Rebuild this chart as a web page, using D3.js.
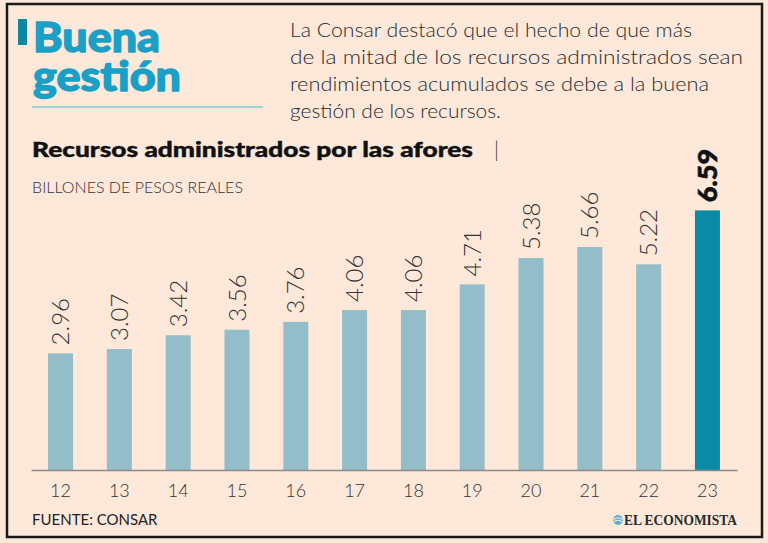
<!DOCTYPE html>
<html><head><meta charset="utf-8">
<script src="https://cdn.jsdelivr.net/npm/d3@7"></script>
<style>
html,body{margin:0;padding:0;background:#fde8da;}
svg{display:block;}
</style></head>
<body>
<svg id="chart" width="768" height="543"></svg>
<script>
const years = ["12","13","14","15","16","17","18","19","20","21","22","23"];
const values = [2.96, 3.07, 3.42, 3.56, 3.76, 4.06, 4.06, 4.71, 5.38, 5.66, 5.22, 6.59];
const valueLabels = ["2.96","3.07","3.42","3.56","3.76","4.06","4.06","4.71","5.38","5.66","5.22","6.59"];
const highlightYear = "23";
const titleLines = ["Buena", "gestión"];
const introLines = [
  "La Consar destacó que el hecho de que más",
  "de la mitad de los recursos administrados sean",
  "rendimientos acumulados se debe a la buena",
  "gestión de los recursos."
];
const chartTitle = "Recursos administrados por las afores";
const chartSubtitle = "BILLONES DE PESOS REALES";
const sourceText = "FUENTE: CONSAR";
const brandText = "EL ECONOMISTA";

const svg = d3.select("#chart");
const W = 768, H = 543;

svg.append("rect").attr("x",0).attr("y",0).attr("width",W).attr("height",H).attr("fill","#fde8da");
svg.append("rect").attr("x",7).attr("y",4).attr("width",755).attr("height",533)
  .attr("fill","none").attr("stroke","#1a1a1a").attr("stroke-width",2.5);

// Header
svg.append("rect").attr("x",18).attr("y",19).attr("width",9).attr("height",26).attr("fill","#0b87a3");
const titleWidths = [127, 148];
const bigTitle = svg.append("text")
  .style("font-family","Lato, 'Open Sans', sans-serif").style("font-weight",900)
  .style("font-size","41px").attr("fill","#1aa0c6")
  .attr("stroke","#1aa0c6").attr("stroke-width",1.3).attr("stroke-linejoin","round");
bigTitle.selectAll("tspan").data(titleLines).join("tspan")
  .attr("x",33).attr("y",(d,i)=>52+i*39)
  .attr("textLength",(d,i)=>titleWidths[i]).attr("lengthAdjust","spacingAndGlyphs")
  .text(d=>d);
svg.append("line").attr("x1",32).attr("x2",263).attr("y1",107).attr("y2",107)
  .attr("stroke","#4fb9cc").attr("stroke-width",1);

const introWidths = [402, 453, 419, 211];
svg.selectAll("text.intro").data(introLines).join("text").attr("class","intro")
  .attr("x",290).attr("y",(d,i)=>37+i*27)
  .attr("textLength",(d,i)=>introWidths[i]).attr("lengthAdjust","spacingAndGlyphs")
  .style("font-family","Lato, 'Open Sans', sans-serif").style("font-weight",300)
  .style("font-size","19.5px").attr("fill","#2b2b2b").text(d=>d);

svg.append("text").attr("x",32).attr("y",157)
  .attr("textLength",441).attr("lengthAdjust","spacingAndGlyphs")
  .style("font-family","Lato, 'Open Sans', sans-serif").style("font-weight",900)
  .style("font-size","20px").attr("fill","#111")
  .attr("stroke","#111").attr("stroke-width",0.4).text(chartTitle);
svg.append("text").attr("x",494).attr("y",157)
  .style("font-family","Lato, sans-serif").style("font-weight",300)
  .style("font-size","21px").attr("fill","#333").text("|");
svg.append("text").attr("x",32).attr("y",193)
  .attr("textLength",211).attr("lengthAdjust","spacingAndGlyphs")
  .style("font-family","Lato, 'Open Sans', sans-serif").style("font-weight",300)
  .style("font-size","15px").attr("fill","#333").text(chartSubtitle);

// Scales
const x = d3.scaleBand().domain(years).range([31, 737]).paddingInner(0.575).paddingOuter(0.29);
const y = d3.scaleLinear().domain([0, 10]).range([470, 76]);

const g = svg.append("g");
g.selectAll("rect.bar").data(years).join("rect").attr("class","bar")
  .attr("x",d=>x(d)).attr("width",x.bandwidth())
  .attr("y",(d,i)=>y(values[i])).attr("height",(d,i)=>y(0)-y(values[i]))
  .attr("fill",d=>d===highlightYear?"#0a8aa6":"#93bdc8");

g.selectAll("text.val").data(years).join("text").attr("class","val")
  .attr("transform",(d,i)=>`translate(${x(d)+x.bandwidth()/2},${y(values[i])-8}) rotate(-90)`)
  .attr("dy","0.36em")
  .style("font-family","Lato, 'Open Sans', sans-serif")
  .style("font-weight",d=>d===highlightYear?900:300)
  .style("font-size",d=>d===highlightYear?"27px":"24px")
  .attr("fill",d=>d===highlightYear?"#111":"#333")
  .attr("stroke",d=>d===highlightYear?"#111":"none")
  .attr("stroke-width",0.6)
  .text((d,i)=>valueLabels[i]);

const axis = d3.axisBottom(x).tickSize(0).tickSizeOuter(0).tickPadding(0);
const ax = svg.append("g").attr("transform","translate(0,470)").call(axis);
ax.select(".domain").attr("stroke","#8a8a8a").attr("stroke-width",1.5);
ax.selectAll(".tick text").attr("y",27).attr("dy",0)
  .style("font-family","Lato, 'Open Sans', sans-serif").style("font-weight",300)
  .style("font-size","18px").attr("fill","#333");

// Footer
svg.append("text").attr("x",32).attr("y",525)
  .style("font-family","Lato, 'Open Sans', sans-serif").style("font-weight",400)
  .style("font-size","15px").attr("fill","#222").text(sourceText);
svg.append("circle").attr("cx",618).attr("cy",520).attr("r",5).attr("fill","#5bb3cf");
svg.append("path").attr("d","M613.5,519.5 Q618,516 622.5,519.5").attr("stroke","#fde8da").attr("stroke-width",1.2).attr("fill","none");
svg.append("path").attr("d","M613.5,522 Q618,518.5 622.5,522").attr("stroke","#fde8da").attr("stroke-width",1.2).attr("fill","none");
svg.append("text").attr("x",624).attr("y",525)
  .attr("textLength",113).attr("lengthAdjust","spacingAndGlyphs")
  .style("font-family","'Liberation Serif', 'DejaVu Serif', serif").style("font-weight",700)
  .style("font-size","15px").attr("fill","#2a2a2a").text(brandText);
</script>
</body></html>
